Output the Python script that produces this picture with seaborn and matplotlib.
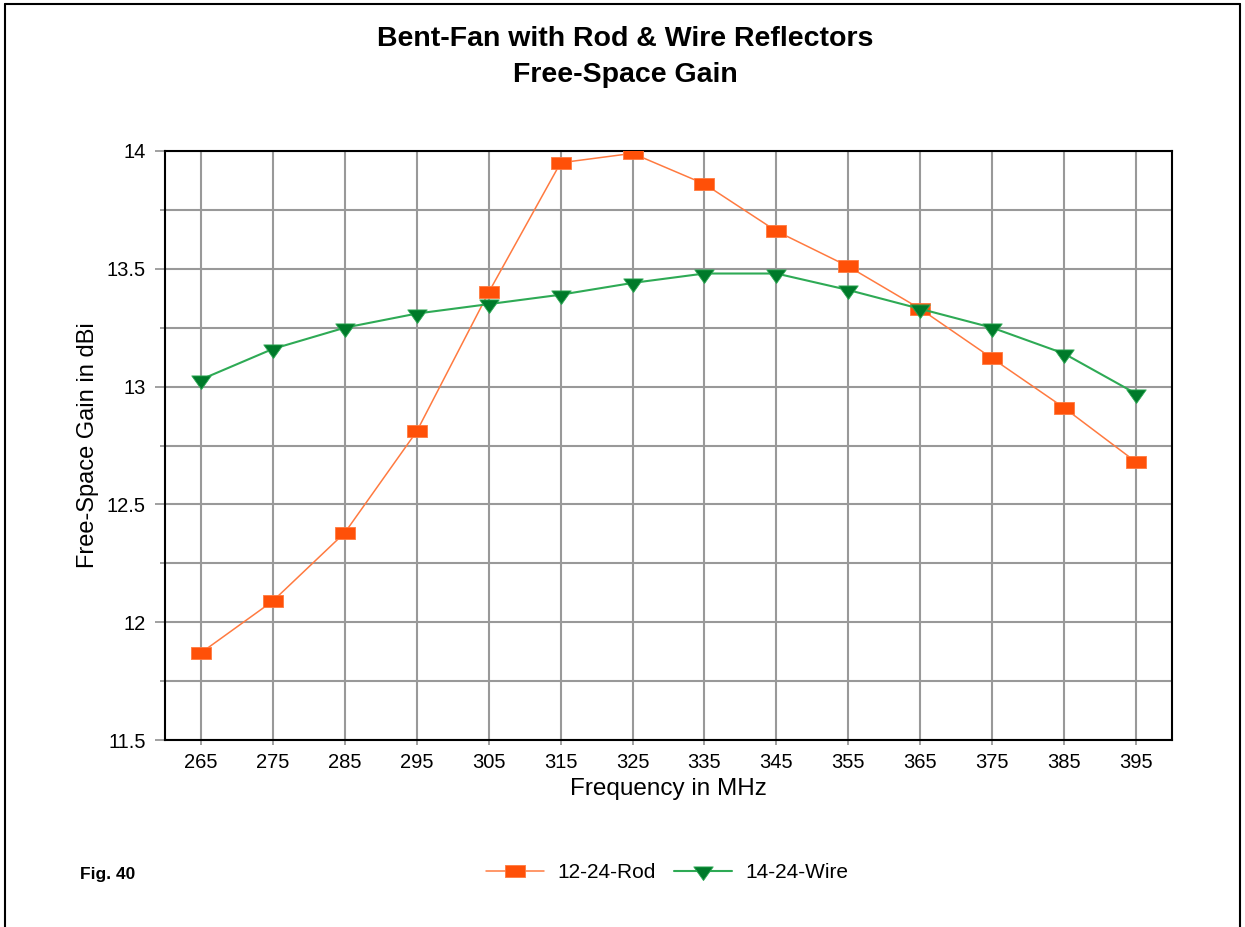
import numpy as np
import pandas as pd
import matplotlib
matplotlib.use("Agg")
import matplotlib.pyplot as plt
from matplotlib.path import Path
from matplotlib.lines import Line2D
from matplotlib.ticker import MultipleLocator, FixedLocator
import seaborn as sns

# ---- data ----
freq_mhz = [265, 275, 285, 295, 305, 315, 325, 335, 345, 355, 365, 375, 385, 395]
rod_gain = [11.87, 12.09, 12.38, 12.81, 13.40, 13.95, 13.99, 13.86, 13.66, 13.51, 13.33, 13.12, 12.91, 12.68]
wire_gain = [13.03, 13.16, 13.25, 13.31, 13.35, 13.39, 13.44, 13.48, 13.48, 13.41, 13.33, 13.25, 13.14, 12.97]
series_names = ["12-24-Rod", "14-24-Wire"]
y_tick_labels = ["11.5", "12", "12.5", "13", "13.5", "14"]

title = "Bent-Fan with Rod & Wire Reflectors\nFree-Space Gain"
x_label = "Frequency in MHz"
y_label = "Free-Space Gain in dBi"
fig_label = "Fig. 40"

sns.set_theme(style="white")
plt.rcParams["font.family"] = ["Liberation Sans", "DejaVu Sans"]
plt.rcParams["text.color"] = "black"
plt.rcParams["axes.labelcolor"] = "black"
plt.rcParams["xtick.color"] = "black"
plt.rcParams["ytick.color"] = "black"

fig = plt.figure(figsize=(12.45, 9.27), dpi=100)
ax = fig.add_axes([165 / 1245, 1 - 740 / 927, (1172 - 165) / 1245, (740 - 151) / 927])

# flattened markers (the reference looks horizontally stretched)
rect_marker = Path([(-1, -0.65), (1, -0.65), (1, 0.65), (-1, 0.65), (-1, -0.65)],
                   [Path.MOVETO, Path.LINETO, Path.LINETO, Path.LINETO, Path.CLOSEPOLY])
tri_marker = Path([(-1, 0.47), (1, 0.47), (0, -0.93), (-1, 0.47)],
                  [Path.MOVETO, Path.LINETO, Path.LINETO, Path.CLOSEPOLY])

df_rod = pd.DataFrame({"freq": freq_mhz, "gain": rod_gain})
df_wire = pd.DataFrame({"freq": freq_mhz, "gain": wire_gain})

sns.lineplot(data=df_rod, x="freq", y="gain", ax=ax, color="#FF7A40", linewidth=1.1,
             marker=rect_marker, markersize=14, markerfacecolor="#FF5008",
             markeredgecolor="#FF7A40", markeredgewidth=0.6, label=series_names[0], zorder=5)
sns.lineplot(data=df_wire, x="freq", y="gain", ax=ax, color="#2EAA55", linewidth=1.5,
             marker=tri_marker, markersize=14, markerfacecolor="#007A2A",
             markeredgecolor="#2EAA55", markeredgewidth=0.6, label=series_names[1], zorder=6)

ax.set_xlim(260, 400)
ax.set_ylim(11.5, 14)
ax.xaxis.set_major_locator(FixedLocator(freq_mhz))
ax.set_xticklabels([str(f) for f in freq_mhz])
ax.yaxis.set_major_locator(FixedLocator([11.5, 12, 12.5, 13, 13.5, 14]))
ax.set_yticklabels(y_tick_labels)
ax.yaxis.set_minor_locator(MultipleLocator(0.25))

ax.grid(True, which="major", axis="both", color="#999999", linewidth=1.5)
ax.grid(True, which="minor", axis="y", color="#999999", linewidth=1.5)
ax.set_axisbelow(True)

for s in ax.spines.values():
    s.set_visible(True)
    s.set_color("black")
    s.set_linewidth(1.5)

ax.tick_params(axis="y", which="major", length=7, width=1.3, color="#999999",
               pad=7, labelsize=14.5, labelcolor="black", left=True)
ax.tick_params(axis="y", which="minor", length=3.5, width=1.3, color="#999999", left=True)
ax.tick_params(axis="x", which="major", length=3.6, width=1.3, color="#999999",
               pad=6, labelsize=14.5, labelcolor="black", bottom=True)

ax.set_xlabel(x_label, fontsize=17.5, color="black")
ax.set_ylabel(y_label, fontsize=17, color="black")
ax.xaxis.set_label_coords(0.5, -0.064)
ax.yaxis.set_label_coords(-0.066, 0.5)

legend = ax.get_legend()
if legend is not None:
    legend.remove()
handles, labels = ax.get_legend_handles_labels()
fig.legend(handles, labels, loc="center", bbox_to_anchor=(667 / 1245, 1 - 873 / 927),
           ncol=2, frameon=False, fontsize=15, handlelength=2.8, handletextpad=0.6,
           columnspacing=0.9, numpoints=1, labelcolor="black")

fig.suptitle(title, x=625 / 1245, y=0.972, fontsize=20.5, fontweight="bold",
             linespacing=1.5, va="top", color="black")
fig.text(80 / 1245, 1 - 875 / 927, fig_label, fontsize=12.5, fontweight="bold",
         ha="left", va="center", color="black")

# outer frame: left, top, right
fig.add_artist(Line2D([5 / 1245, 5 / 1245], [0, 1 - 4 / 927], color="black", linewidth=1.5,
                      transform=fig.transFigure))
fig.add_artist(Line2D([5 / 1245, 1240 / 1245], [1 - 4 / 927, 1 - 4 / 927], color="black",
                      linewidth=1.5, transform=fig.transFigure))
fig.add_artist(Line2D([1240 / 1245, 1240 / 1245], [0, 1 - 4 / 927], color="black",
                      linewidth=1.5, transform=fig.transFigure))

fig.savefig("out.png", dpi=100, facecolor="white")
